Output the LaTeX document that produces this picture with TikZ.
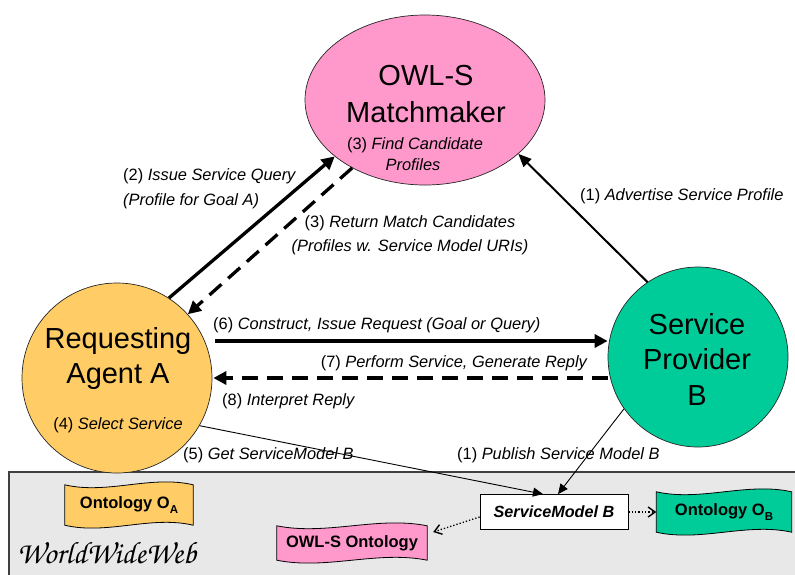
\documentclass[tikz,border=0pt]{standalone}
\usepackage[T1,TU]{fontenc}
\usepackage{fontspec}
\setmainfont{Liberation Sans}
\usetikzlibrary{shapes.geometric,arrows.meta,calc}
\pgfdeclarelayer{back}
\pgfdeclarelayer{mid}
\pgfsetlayers{back,mid,main}
\definecolor{mmpink}{HTML}{FF99CC}
\definecolor{agorange}{HTML}{FFCC66}
\definecolor{spgreen}{HTML}{00CC99}
\definecolor{webgray}{HTML}{E8E8E8}
\newcommand\wavebanner[2]{%
  \path[fill=#2, draw=black, line width=0.8pt] let \p1=(#1.north west), \p2=(#1.south east), \n1={\x2-\x1} in
    (\x1,\y1) .. controls ({\x1+0.33*\n1},{\y1-10pt}) and ({\x1+0.67*\n1},{\y1+10pt}) .. (\x2,\y1)
    -- (\x2,\y2) .. controls ({\x1+0.67*\n1},{\y2+10pt}) and ({\x1+0.33*\n1},{\y2-10pt}) .. (\x1,\y2) -- cycle;}
\newcommand\lowsub[1]{\raisebox{-4.5pt}{\fontsize{11.5}{12}\selectfont #1}}
\begin{document}
\begin{tikzpicture}[x=1pt,y=-1pt,
  bigtext/.style={font=\fontsize{29}{35}\selectfont, inner sep=0pt, anchor=base},
  lbl/.style={font=\fontsize{16.4}{25}\selectfont, inner sep=0pt},
  bannertext/.style={font=\bfseries\fontsize{16.5}{19}\selectfont, inner sep=0pt},
  roundnode/.style={circle, draw=black!85, line width=0.7pt, inner sep=0pt},
  ovalnode/.style={ellipse, draw=black!85, line width=0.7pt, inner sep=0pt},
  heavy/.style={line width=3.3pt, -{Triangle[length=13pt,width=13pt]}},
  heavydash/.style={heavy, dash pattern=on 16pt off 9pt},
  medarrow/.style={line width=2pt, -{Triangle[length=13pt,width=11pt]}},
  thinarrow/.style={line width=0.9pt, -{Triangle[length=10pt,width=9pt]}},
  dotarrow/.style={line width=1.3pt, dash pattern=on 1.3pt off 2pt, -{Straight Barb[length=7pt,width=10pt,line width=1.4pt]}}
]
\path[use as bounding box] (0,0) rectangle (795,574);
\begin{pgfonlayer}{back}
  \begin{scope}
    \clip (0,0) rectangle (795,574);
    \draw[fill=webgray, draw=black!75, line width=1.2pt] (9,472) rectangle (805,585);
  \end{scope}
\end{pgfonlayer}

% main nodes
\node[ovalnode, fill=mmpink, minimum width=240, minimum height=170] (M) at (425,100) {};
\node[roundnode, fill=agorange, minimum size=190] (A) at (117,378) {};
\node[roundnode, fill=spgreen, minimum size=180] (B) at (698,357) {};

\node[bigtext] (Mt1) at (426,85) {OWL-S};
\node[bigtext] (Mt2) at (426,122) {Matchmaker};
\node[lbl, anchor=base] (Mt3) at (415,149) {(3) \textit{Find Candidate}};
\node[lbl, anchor=base] (Mt4) at (413,170) {\textit{Profiles}};

\node[bigtext] (At1) at (118,348) {Requesting};
\node[bigtext] (At2) at (118,383) {Agent A};
\node[lbl, anchor=base] (At3) at (118,429) {(4) \textit{Select Service}};

\node[bigtext] (Bt1) at (697,334) {Service};
\node[bigtext] (Bt2) at (697,369) {Provider};
\node[bigtext] (Bt3) at (697,405) {B};

% web items
\node[bannertext, minimum width=128, minimum height=40] (OA) at (129,505) {Ontology O\lowsub{A}};
\node[bannertext, minimum width=150, minimum height=34] (OWL) at (352,543) {OWL-S Ontology};
\node[bannertext, minimum width=135, minimum height=40] (OB) at (724,512) {Ontology O\lowsub{B}};
\node[draw=black, line width=0.8pt, fill=white, minimum width=148, minimum height=35, inner sep=0pt,
      font=\bfseries\itshape\fontsize{16.2}{19}\selectfont] (SM) at (554,512) {ServiceModel B};
\node[anchor=base west, inner sep=0pt,
      font=\fontencoding{T1}\fontfamily{pzc}\fontseries{mb}\fontshape{it}\fontsize{31}{34}\selectfont] (www) at (17,563) {WorldWideWeb};

\begin{pgfonlayer}{mid}
  \wavebanner{OA}{agorange}
  \wavebanner{OWL}{mmpink}
  \wavebanner{OB}{spgreen}
\end{pgfonlayer}

% labels
\node[lbl, anchor=base west] (L2a) at (123,180) {(2) \textit{Issue Service Query}};
\node[lbl, anchor=base west] (L2b) at (123,205) {\textit{(Profile for Goal A)}};
\node[lbl, anchor=base] (L3a) at (410,227) {(3) \textit{Return Match Candidates}};
\node[lbl, anchor=base] (L3b) at (410,251) {\textit{(Profiles w. Service Model URIs)}};
\node[lbl, anchor=base west] (L1a) at (580,200) {(1) \textit{Advertise Service Profile}};
\node[lbl, anchor=base west] (L6) at (213,329) {(6) \textit{Construct, Issue Request (Goal or Query)}};
\node[lbl, anchor=base east] (L7) at (588,367) {(7) \textit{Perform Service, Generate Reply}};
\node[lbl, anchor=base west] (L8) at (222,405) {(8) \textit{Interpret Reply}};
\node[lbl, anchor=base west] (L5) at (183,459) {(5) \textit{Get ServiceModel B}};
\node[lbl, anchor=base west] (L1b) at (457,459) {(1) \textit{Publish Service Model B}};

% connectors
\coordinate (r6) at (0,341);
\draw[heavy] (A.57.5) -- (M.212);
\draw[heavydash] (M.223) -- (A.42);
\draw[medarrow] (B.124.6) -- (M.-30);
\draw[heavy] ([xshift=3pt]A.east |- r6) -- (B.west |- r6);
\draw[heavydash] (B.west |- A.east) -- ([xshift=1pt]A.east);
\draw[thinarrow] (A.-30) -- ([xshift=-11pt]SM.north);
\draw[thinarrow] (B.215) -- ([xshift=4pt]SM.north);
\draw[dotarrow] (SM.east) -- (OB.west);
\draw[dotarrow] ([yshift=-5pt]SM.west) -- ([shift={(6pt,11pt)}]OWL.east);
\end{tikzpicture}
\end{document}
